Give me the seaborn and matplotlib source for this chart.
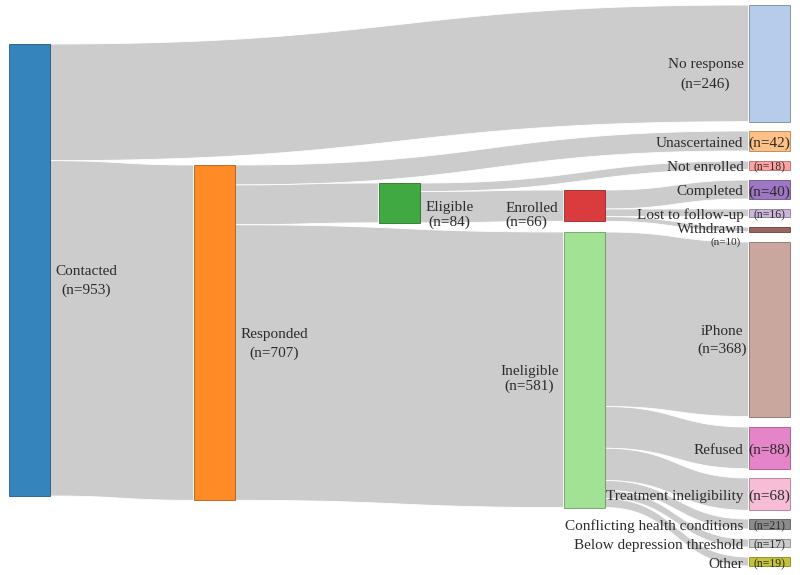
import numpy as np
import matplotlib
matplotlib.use("Agg")
import matplotlib.pyplot as plt
import seaborn as sns

# --- data: nodes and flows of the recruitment funnel ---
node_names = [
    "Contacted", "No response", "Responded", "Unascertained", "Eligible",
    "Ineligible", "Enrolled", "Not enrolled", "Completed", "Lost to follow-up",
    "Withdrawn", "iPhone", "Refused", "Treatment ineligibility",
    "Conflicting health conditions", "Below depression threshold", "Other",
]
link_source = [
    "Contacted", "Contacted",
    "Responded", "Responded", "Responded",
    "Eligible", "Eligible",
    "Enrolled", "Enrolled", "Enrolled",
    "Ineligible", "Ineligible", "Ineligible", "Ineligible", "Ineligible", "Ineligible",
]
link_target = [
    "No response", "Responded",
    "Unascertained", "Eligible", "Ineligible",
    "Not enrolled", "Enrolled",
    "Completed", "Lost to follow-up", "Withdrawn",
    "iPhone", "Refused", "Treatment ineligibility",
    "Conflicting health conditions", "Below depression threshold", "Other",
]
link_value = [246, 707, 42, 84, 581, 18, 66, 40, 16, 10, 368, 88, 68, 21, 17, 19]

# --- layout (column index, top of node in px, label placement) ---
node_col = {
    "Contacted": 0, "No response": 4, "Responded": 1, "Unascertained": 4,
    "Eligible": 2, "Ineligible": 3, "Enrolled": 3, "Not enrolled": 4,
    "Completed": 4, "Lost to follow-up": 4, "Withdrawn": 4, "iPhone": 4,
    "Refused": 4, "Treatment ineligibility": 4,
    "Conflicting health conditions": 4, "Below depression threshold": 4, "Other": 4,
}
node_top = {
    "Contacted": 44, "No response": 5, "Responded": 165, "Unascertained": 131,
    "Eligible": 183, "Ineligible": 232, "Enrolled": 190, "Not enrolled": 161,
    "Completed": 180, "Lost to follow-up": 209, "Withdrawn": 227, "iPhone": 242,
    "Refused": 427, "Treatment ineligibility": 478,
    "Conflicting health conditions": 519, "Below depression threshold": 539, "Other": 557,
}
# 'right' : two-line label right of node, 'left' : two-line label left of node,
# 'inside': name left of node, count inside node, 'below': count under name
label_mode = {
    "Contacted": "right", "Responded": "right", "Eligible": "right",
    "Enrolled": "left", "Ineligible": "left", "No response": "left",
    "iPhone": "left", "Withdrawn": "below",
}
# (offset of first line from node centre, distance to second line)
label_lines = {
    "Contacted": (0, 19), "Responded": (0, 19), "Eligible": (3, 15),
    "Enrolled": (1.5, 14), "Ineligible": (0, 15), "No response": (0, 19),
    "iPhone": (1, 17),
}
small_count = {"Not enrolled", "Lost to follow-up", "Withdrawn",
               "Conflicting health conditions", "Below depression threshold", "Other"}

COL_X0 = 8.5
COL_STEP = 185.0
NODE_W = 41.0

sns.set_theme(style="white")
plt.rcParams['font.family'] = ['Liberation Serif', 'DejaVu Serif']
palette = sns.color_palette("tab20", 20)
node_color = {n: palette[i] for i, n in enumerate(node_names)}

# node sizes from flows
inflow = {n: 0 for n in node_names}
outflow = {n: 0 for n in node_names}
for s, t, v in zip(link_source, link_target, link_value):
    outflow[s] += v
    inflow[t] += v
node_value = {n: max(inflow[n], outflow[n]) for n in node_names}
scale = 452.0 / node_value["Contacted"]   # px per person

fig = plt.figure(figsize=(8, 5.75), dpi=100)
ax = fig.add_axes([0, 0, 1, 1])
ax.set_xlim(0, 800)
ax.set_ylim(575, 0)
ax.axis('off')
renderer = fig.canvas.get_renderer()


def node_x0(n):
    return COL_X0 + COL_STEP * node_col[n]


def center(n):
    return node_top[n] + node_value[n] * scale / 2


# --- links ---
src_off = {n: 0.0 for n in node_names}
tgt_off = {n: 0.0 for n in node_names}
order = sorted(range(len(link_value)),
               key=lambda i: (link_source[i], center(link_target[i])))
t = np.linspace(0, 1, 80)
for i in order:
    s, g, v = link_source[i], link_target[i], link_value[i]
    h = v * scale
    x0 = node_x0(s) + NODE_W
    x1 = node_x0(g)
    xm = (x0 + x1) / 2
    ys0 = node_top[s] + src_off[s]
    yt0 = node_top[g] + tgt_off[g]
    src_off[s] += h
    tgt_off[g] += h
    bx = (1 - t) ** 3 * x0 + 3 * (1 - t) ** 2 * t * xm + 3 * (1 - t) * t ** 2 * xm + t ** 3 * x1
    bw = 3 * (1 - t) * t ** 2 + t ** 3
    y_top = ys0 + (yt0 - ys0) * bw
    y_bot = (ys0 + h) + ((yt0 + h) - (ys0 + h)) * bw
    ax.fill(np.concatenate([bx, bx[::-1]]), np.concatenate([y_top, y_bot[::-1]]),
            facecolor='#cccccc', edgecolor='white', linewidth=0.6, zorder=1)

# --- nodes ---
for n in node_names:
    h = node_value[n] * scale
    c = node_color[n]
    ax.bar(node_x0(n), h, width=NODE_W, bottom=node_top[n], align='edge',
           color=c, alpha=0.9, edgecolor=tuple(np.array(c) * 0.65), linewidth=0.6, zorder=2)

# --- labels ---
FS = 11
YS = 1.5   # shift so the visual middle of the text sits where intended
text_kw = dict(color='#2b2b2b', zorder=3, va='center')
for n in node_names:
    cy = center(n)
    cnt = f"(n={node_value[n]})"
    mode = label_mode.get(n, "inside")
    if mode in ("right", "left"):
        d1, gap = label_lines[n]
        if mode == "right":
            tx = ax.text(node_x0(n) + NODE_W + 6, cy + d1 + YS, n, ha='left', fontsize=FS, **text_kw)
        else:
            tx = ax.text(node_x0(n) - 5, cy + d1 + YS, n, ha='right', fontsize=FS, **text_kw)
        bb = tx.get_window_extent(renderer).transformed(ax.transData.inverted())
        if n == "Enrolled":
            ax.text(bb.x0, cy + d1 + gap + YS, cnt, ha='left', fontsize=FS, **text_kw)
        else:
            ax.text((bb.x0 + bb.x1) / 2, cy + d1 + gap + YS, cnt, ha='center', fontsize=FS, **text_kw)
    elif mode == "below":
        ax.text(node_x0(n) - 4, cy + 0.5, n, ha='right', fontsize=FS, **text_kw)
        ax.text(node_x0(n) - 8, cy + 13, cnt, ha='right', fontsize=8, **text_kw)
    else:
        ax.text(node_x0(n) - 5, cy + 1 + YS, n, ha='right', fontsize=FS, **text_kw)
        ax.text(node_x0(n) + NODE_W / 2, cy + 1 + YS, cnt, ha='center',
                fontsize=8.5 if n in small_count else FS, **text_kw)

fig.savefig("out.png", dpi=100)
